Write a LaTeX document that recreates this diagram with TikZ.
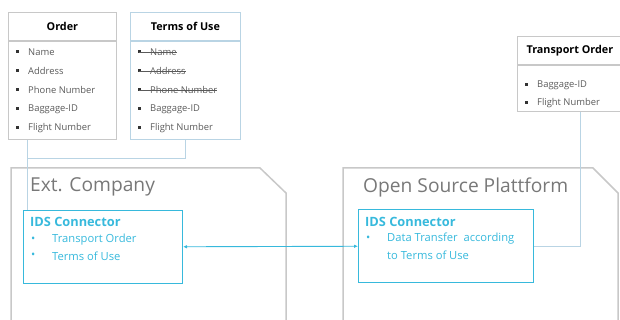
\documentclass[tikz,border=0pt]{standalone}
\usepackage{fontspec}
\setmainfont{Open Sans}
\usetikzlibrary{
    arrows.meta,
    positioning
}
\definecolor{LineGray}{RGB}{200,200,200}
\definecolor{HeadGray}{RGB}{120,120,120}
\definecolor{ItemGray}{RGB}{90,90,90}
\definecolor{IdsCyan}{RGB}{55,185,220}
\definecolor{LinkBlue}{RGB}{185,212,228}
\tikzset{
  tblhead/.style  = {draw=LineGray, line width=0.8pt, anchor=north west,
                     minimum height=28pt, inner sep=0pt,
                     font=\fontsize{10.8}{12}\selectfont\bfseries},
  tblbody/.style  = {draw=LineGray, line width=0.8pt, inner sep=0pt},
  item/.style     = {anchor=west, inner sep=0pt, text=ItemGray,
                     font=\fontsize{9.4}{11}\selectfont},
  sq/.style       = {fill=black!80, minimum size=3pt, inner sep=0pt},
  container/.style= {draw=LineGray, line width=1.5pt},
  ctitle/.style   = {anchor=west, inner sep=0pt, text=HeadGray,
                     font=\fontsize{19.2}{21}\selectfont},
  idsbox/.style   = {draw=IdsCyan, line width=1pt, anchor=north west,
                     inner sep=0pt, minimum height=73pt},
  idstitle/.style = {anchor=west, inner sep=0pt, text=IdsCyan,
                     font=\fontsize{12.8}{14}\selectfont\bfseries},
  idsitem/.style  = {anchor=west, inner sep=0pt, text=IdsCyan,
                     font=\fontsize{11.2}{13}\selectfont},
  link/.style     = {draw=LinkBlue, line width=1pt},
  arr/.style      = {{Latex[length=4pt,width=3.5pt]}-{Latex[length=4pt,width=3.5pt]},
                     IdsCyan, line width=0.9pt}
}

\begin{document}
\begin{tikzpicture}[x=1pt,y=-1pt]
\useasboundingbox (0,0) rectangle (620,320);

% containers
\draw[container] (11,325) -- (11,168) -- (260,168) -- (286,193) -- (286,325);
\draw[container] (343,325) -- (343,168) -- (593,168) -- (618,193) -- (618,325);
\node[ctitle] (extco) at (30,187) {Ext. Company};
\node[ctitle] (osp) at (363,187) {Open Source Plattform};

% order table
\node[tblhead, minimum width=108pt] (ordhead) at (8,12) {Order};
\node[tblbody, below=0pt of ordhead, minimum width=108pt, minimum height=98pt] (ordbody) {};
\foreach \txt [count=\i] in {Name, Address, Phone Number, Baggage-ID, Flight Number} {
  \node[sq] (ordsq\i) at (17,{52+19*(\i-1)}) {};
  \node[item] (orditem\i) at (28,{52+19*(\i-1)}) {\txt};
}

% terms of use table
\node[tblhead, draw=LinkBlue, minimum width=110pt] (touhead) at (130,12) {Terms of Use};
\node[tblbody, draw=LinkBlue, below=0pt of touhead, minimum width=110pt, minimum height=98pt] (toubody) {};
\foreach \txt [count=\i] in {Name, Address, Phone Number, Baggage-ID, Flight Number} {
  \node[sq] (tousq\i) at (139,{52+19*(\i-1)}) {};
  \node[item] (touitem\i) at (150,{52+19*(\i-1)}) {\txt};
}
\foreach \i in {1,2,3}
  \draw[ItemGray, line width=0.6pt] (tousq\i.center) -- (touitem\i.east);

% transport order table
\node[tblhead, minimum width=105pt] (trhead) at (517,36) {Transport Order};
\node[tblbody, below=0pt of trhead, minimum width=105pt, minimum height=46pt] (trbody) {};
\node[sq] (trsq1) at (526,85) {};
\node[item] (tritem1) at (537,85) {Baggage-ID};
\node[sq] (trsq2) at (526,103) {};
\node[item] (tritem2) at (537,103) {Flight Number};

% ids connectors
\node[idsbox, minimum width=159pt] (idsleft) at (23,210) {};
\node[idstitle] (idsltitle) at (30,222) {IDS Connector};
\node[idsitem] (idslb1) at (31,240) {•};
\node[idsitem] (idsli1) at (52,240) {Transport Order};
\node[idsitem] (idslb2) at (31,256) {•};
\node[idsitem] (idsli2) at (52,256) {Terms of Use};

\node[idsbox, minimum width=175pt] (idsright) at (358,209) {};
\node[idstitle] (idsrtitle) at (365,222) {IDS Connector};
\node[idsitem] (idsrb1) at (366,239) {•};
\node[idsitem] (idsri1) at (387,239) {Data Transfer\ \ according};
\node[idsitem] (idsri2) at (387,255) {to Terms of Use};

% links
\coordinate (ordlink) at ([xshift=19pt]ordbody.south west);
\coordinate (trlink) at ([xshift=11pt]trbody.south);
\draw[link] (ordlink) -- (ordlink |- idsleft.north);
\draw[link] (toubody.south) -- ++(0,19) -| (ordlink);
\draw[link] (trlink) |- (idsright.east);
\draw[arr] (idsleft) -- (idsright);
\end{tikzpicture}
\end{document}
